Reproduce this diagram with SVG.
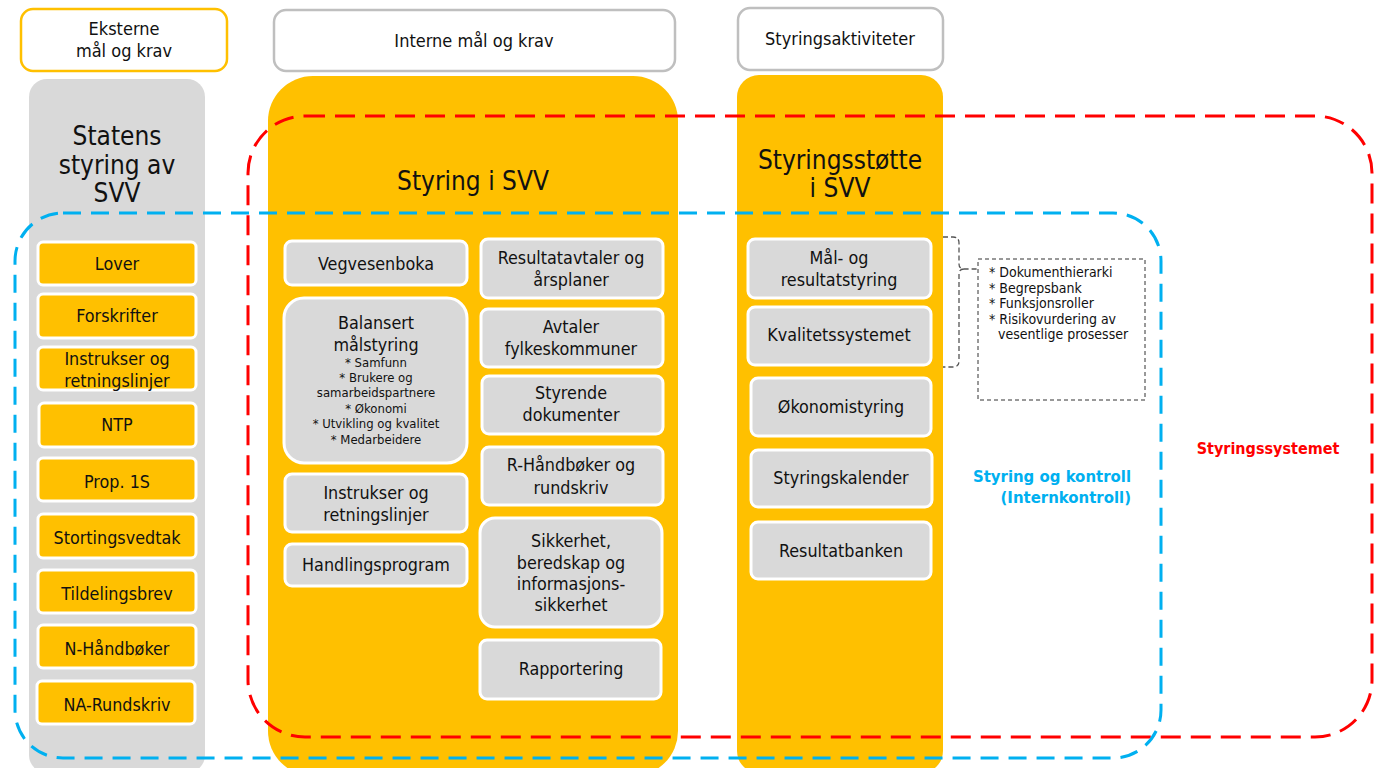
<svg xmlns="http://www.w3.org/2000/svg" width="1374" height="768" viewBox="0 0 1374 768">
<style>
text{font-family:"DejaVu Sans Condensed","DejaVu Sans",sans-serif;font-stretch:condensed;fill:#111;text-anchor:middle;dominant-baseline:central}
.hdr{fill:#fff;stroke-width:2.5}
.t16{font-size:18px}
.t17{font-size:17.8px}
.t26{font-size:26px}
.t12{font-size:13px}
.tn{font-size:14px;text-anchor:start}
.ob{fill:#FFC000;stroke:#fff;stroke-width:3}
.gb{fill:#D9D9D9;stroke:#fff;stroke-width:3}
.blue{fill:none;stroke:#00B0F0;stroke-width:3;stroke-dasharray:18 10}
.red{fill:none;stroke:#FF0000;stroke-width:3;stroke-dasharray:20 10}
.lblb{font-size:16.6px;font-weight:bold;fill:#00B0F0;text-anchor:end}
.lblr{font-size:16px;font-weight:bold;fill:#FF0000}
</style>
<rect width="1374" height="768" fill="#fff"/>
<!-- headers -->
<g id="hdr-ekst"><rect class="hdr" x="21" y="9" width="206" height="62" rx="12" stroke="#FFC000"/><text class="t16" x="124" y="28">Eksterne</text><text class="t16" x="124" y="50">mål og krav</text></g>
<g id="hdr-int"><rect class="hdr" x="274" y="10" width="401" height="61" rx="12" stroke="#BFBFBF"/><text class="t16" x="474" y="40">Interne mål og krav</text></g>
<g id="hdr-akt"><rect class="hdr" x="738" y="8" width="205" height="62" rx="12" stroke="#BFBFBF"/><text class="t16" x="840" y="38">Styringsaktiviteter</text></g>
<!-- columns -->
<g id="col-statens"><rect x="29" y="79" width="176" height="694" rx="18" fill="#D9D9D9"/><text class="t26" x="117" y="136">Statens</text><text class="t26" x="117" y="165">styring av</text><text class="t26" x="117" y="193">SVV</text></g>
<g id="col-styring"><rect x="268" y="76" width="410" height="700" rx="45" fill="#FFC000"/><text class="t26" x="473" y="181">Styring i SVV</text></g>
<g id="col-stotte"><rect x="737" y="75" width="206" height="698" rx="22" fill="#FFC000"/><text class="t26" x="840" y="160">Styringsstøtte</text><text class="t26" x="840" y="188">i SVV</text></g>
<!-- left boxes -->
<g id="lover"><rect class="ob" x="38" y="242" width="158" height="43" rx="5"/><text class="t17" x="117" y="263">Lover</text></g>
<g id="forskrifter"><rect class="ob" x="38" y="294" width="158" height="44" rx="5"/><text class="t17" x="117" y="315">Forskrifter</text></g>
<g id="instrukser-ext"><rect class="ob" x="38" y="347" width="158" height="43" rx="5"/><text class="t17" x="117" y="358">Instrukser og</text><text class="t17" x="117" y="380">retningslinjer</text></g>
<g id="ntp"><rect class="ob" x="39" y="403" width="157" height="44" rx="5"/><text class="t17" x="117" y="424">NTP</text></g>
<g id="prop"><rect class="ob" x="38" y="458" width="158" height="43" rx="5"/><text class="t17" x="117" y="481">Prop. 1S</text></g>
<g id="stortingsvedtak"><rect class="ob" x="38" y="514" width="158" height="44" rx="5"/><text class="t17" x="117" y="537">Stortingsvedtak</text></g>
<g id="tildelingsbrev"><rect class="ob" x="38" y="570" width="158" height="43" rx="5"/><text class="t17" x="117" y="593">Tildelingsbrev</text></g>
<g id="n-handboker"><rect class="ob" x="38" y="625" width="158" height="43" rx="5"/><text class="t17" x="117" y="648">N-Håndbøker</text></g>
<g id="na-rundskriv"><rect class="ob" x="37" y="681" width="158" height="43" rx="5"/><text class="t17" x="117" y="704">NA-Rundskriv</text></g>
<!-- middle boxes left -->
<g id="vegvesenboka"><rect class="gb" x="285" y="241" width="182" height="44" rx="7"/><text class="t17" x="376" y="263">Vegvesenboka</text></g>
<g id="balansert"><rect class="gb" x="284" y="298" width="183" height="165" rx="20"/><text class="t17" x="376" y="322">Balansert</text><text class="t17" x="376" y="344">målstyring</text><text class="t12" x="376" y="362">* Samfunn</text><text class="t12" x="376" y="377">* Brukere og</text><text class="t12" x="376" y="392">samarbeidspartnere</text><text class="t12" x="376" y="408">* Økonomi</text><text class="t12" x="376" y="423">* Utvikling og kvalitet</text><text class="t12" x="376" y="439">* Medarbeidere</text></g>
<g id="instrukser-int"><rect class="gb" x="285" y="474" width="182" height="58" rx="7"/><text class="t17" x="376" y="492">Instrukser og</text><text class="t17" x="376" y="514">retningslinjer</text></g>
<g id="handlingsprogram"><rect class="gb" x="285" y="544" width="182" height="42" rx="7"/><text class="t17" x="376" y="564">Handlingsprogram</text></g>
<!-- middle boxes right -->
<g id="resultatavtaler"><rect class="gb" x="481" y="239" width="182" height="59" rx="7"/><text class="t17" x="571" y="257">Resultatavtaler og</text><text class="t17" x="571" y="279">årsplaner</text></g>
<g id="avtaler"><rect class="gb" x="481" y="309" width="182" height="58" rx="7"/><text class="t17" x="571" y="326">Avtaler</text><text class="t17" x="571" y="348">fylkeskommuner</text></g>
<g id="styrende"><rect class="gb" x="482" y="376" width="181" height="58" rx="7"/><text class="t17" x="571" y="392">Styrende</text><text class="t17" x="571" y="414">dokumenter</text></g>
<g id="r-handboker"><rect class="gb" x="482" y="447" width="181" height="58" rx="7"/><text class="t17" x="571" y="464">R-Håndbøker og</text><text class="t17" x="571" y="487">rundskriv</text></g>
<g id="sikkerhet"><rect class="gb" x="480" y="518" width="182" height="109" rx="15"/><text class="t17" x="571" y="540">Sikkerhet,</text><text class="t17" x="571" y="562">beredskap og</text><text class="t17" x="571" y="583">informasjons-</text><text class="t17" x="571" y="604">sikkerhet</text></g>
<g id="rapportering"><rect class="gb" x="480" y="640" width="181" height="59" rx="7"/><text class="t17" x="571" y="668">Rapportering</text></g>
<!-- right boxes -->
<g id="mal-resultat"><rect class="gb" x="748" y="239" width="183" height="59" rx="7"/><text class="t17" x="839" y="257">Mål- og</text><text class="t17" x="839" y="279">resultatstyring</text></g>
<g id="kvalitet"><rect class="gb" x="748" y="307" width="183" height="58" rx="7"/><text class="t17" x="839" y="334">Kvalitetssystemet</text></g>
<g id="okonomi"><rect class="gb" x="751" y="378" width="180" height="58" rx="7"/><text class="t17" x="841" y="406">Økonomistyring</text></g>
<g id="kalender"><rect class="gb" x="751" y="450" width="181" height="57" rx="7"/><text class="t17" x="841" y="477">Styringskalender</text></g>
<g id="resultatbanken"><rect class="gb" x="751" y="522" width="180" height="57" rx="7"/><text class="t17" x="841" y="550">Resultatbanken</text></g>
<!-- note box -->
<g id="note"><rect x="978" y="259" width="167" height="141" fill="#fff" stroke="#333" stroke-width="1" stroke-dasharray="4 3"/>
<text class="tn" x="989" y="272">* Dokumenthierarki</text>
<text class="tn" x="989" y="288">* Begrepsbank</text>
<text class="tn" x="989" y="303">* Funksjonsroller</text>
<text class="tn" x="989" y="319">* Risikovurdering av</text>
<text class="tn" x="998" y="334">vesentlige prosesser</text></g>
<!-- connectors / boundaries -->
<g id="connectors">
<path d="M943,237 H953 Q959,237 959,243 V264 Q959,269 964,269 H978 M964,269 Q959,269 959,274 V361 Q959,367 953,367 H943" fill="none" stroke="#555" stroke-width="1.3" stroke-dasharray="5 3"/>
<rect class="red" x="248" y="116" width="1124" height="621" rx="57"/>
<rect class="blue" x="15" y="213" width="1146" height="545" rx="48"/>
</g>
<g id="labels">
<text class="lblb" x="1131" y="476">Styring og kontroll</text>
<text class="lblb" x="1131" y="497">(Internkontroll)</text>
<text class="lblr" x="1268" y="448">Styringssystemet</text>
</g>
</svg>
